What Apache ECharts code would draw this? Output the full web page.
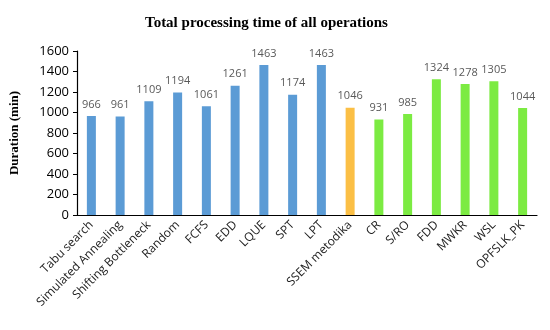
<!DOCTYPE html>
<html><head><meta charset="utf-8">
<script src="https://cdn.jsdelivr.net/npm/echarts@6/dist/echarts.min.js"></script>
<style>html,body{margin:0;padding:0;background:#fff}#c{width:550px;height:330px}</style>
</head><body><div id="c"></div>
<script>
const categories = ["Tabu search","Simulated Annealing","Shifting Bottleneck","Random","FCFS","EDD","LQUE","SPT","LPT","SSEM metodika","CR","S/RO","FDD","MWKR","WSL","OPFSLK_PK"];
const values = [966, 961, 1109, 1194, 1061, 1261, 1463, 1174, 1463, 1046, 931, 985, 1324, 1278, 1305, 1044];
const groups = ["blue","blue","blue","blue","blue","blue","blue","blue","blue","orange","green","green","green","green","green","green"];
const yTicks = [0, 200, 400, 600, 800, 1000, 1200, 1400, 1600];
const palette = {blue:"#5B9BD5", orange:"#FBBF45", green:"#7CEB42"};

const chart = echarts.init(document.getElementById('c'));
chart.setOption({
  animation:false,
  title:{text:"Total processing time of all operations", left:140, top:11,
    textStyle:{fontFamily:"Liberation Serif", fontWeight:"bold", fontSize:15, color:"#000"}},
  grid:{left:76.5, right:13, top:51, bottom:115},
  xAxis:{type:"category", data:categories,
    axisLine:{lineStyle:{color:"#000", width:1.2}},
    axisTick:{alignWithLabel:true, length:4, lineStyle:{color:"#000"}},
    axisLabel:{rotate:45, interval:0, fontFamily:"Open Sans", fontSize:12, color:"#222", margin:8}},
  yAxis:{type:"value", min:yTicks[0], max:yTicks[yTicks.length-1], interval:200,
    name:"Duration (min)", nameLocation:"middle", nameGap:56,
    nameTextStyle:{fontFamily:"Liberation Serif", fontWeight:"bold", fontSize:13, color:"#000"},
    axisLine:{show:true, lineStyle:{color:"#000", width:1.2}},
    axisTick:{show:true, length:4, lineStyle:{color:"#000"}},
    splitLine:{show:false},
    axisLabel:{fontFamily:"Open Sans", fontSize:13, color:"#000", margin:8, formatter:v=>String(v)}},
  series:[{type:"bar", barWidth:9,
    data:values.map((v,i)=>({value:v, itemStyle:{color:palette[groups[i]]}})),
    label:{show:true, position:"top", distance:6, fontFamily:"Open Sans", fontSize:11, color:"#595959"}}]
});
</script></body></html>
